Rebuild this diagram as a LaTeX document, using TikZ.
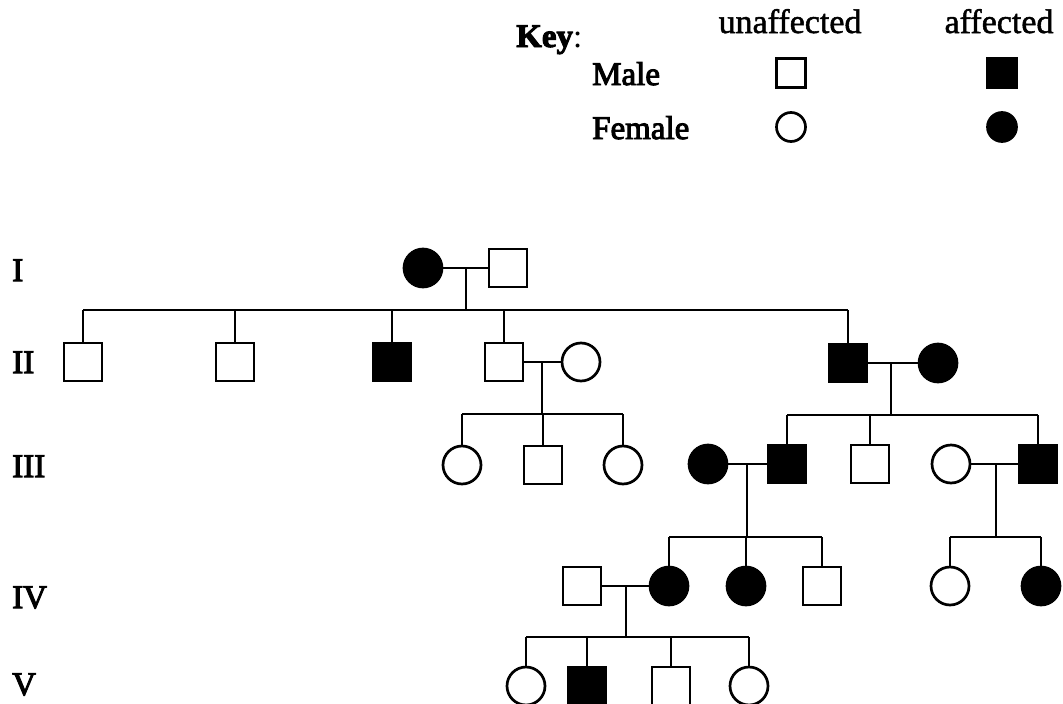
\documentclass[tikz,border=0pt]{standalone}
\usepackage{fontspec}
\setmainfont{Liberation Serif}
\newfontfamily\heavyfont{Liberation Serif}[FakeBold=3]
\newfontfamily\midfont{Liberation Serif}[FakeBold=1.5]
\usetikzlibrary{calc}
\begin{document}
\begin{tikzpicture}[x=1pt,y=-1pt,
  lw/.style={line width=2.7pt},
  person/.style={draw, lw, inner sep=0pt, fill=white},
  male/.style={person, rectangle, minimum size=38pt},
  female/.style={person, circle, minimum size=38pt},
  keymale/.style={person, rectangle, minimum size=29pt},
  keyfemale/.style={person, circle, minimum size=29pt},
  aff/.style={fill=black},
  tag/.style={anchor=base west, inner sep=0pt, font=\heavyfont\fontsize{33}{38}\selectfont},
  head/.style={anchor=base, inner sep=0pt, font=\midfont\fontsize{34}{38}\selectfont},
  link/.style={lw}
]
\clip (0,0) rectangle (1063,704);
\useasboundingbox (0,0) rectangle (1063,704);

% ---------- key ----------
\node[tag, font=\fontsize{33}{38}\selectfont] (keyt) at (516,47) {{\heavyfont\bfseries Key}:};
\node[head] (unaff) at (790,33) {unaffected};
\node[head] (affh) at (999,33) {affected};
\node[tag] (malet) at (592,85) {Male};
\node[tag] (femt) at (592,139) {Female};
\node[keymale] (km) at (791,73) {};
\node[keymale, aff] (kma) at (1002,73) {};
\node[keyfemale] (kf) at (791,127) {};
\node[keyfemale, aff] (kfa) at (1002,127) {};

% ---------- generation labels ----------
\node[tag] (gI) at (12,281) {I};
\node[tag] (gII) at (12,373) {II};
\node[tag] (gIII) at (12,477) {III};
\node[tag] (gIV) at (12,608) {IV};
\node[tag] (gV) at (12,695) {V};

% ---------- generation I ----------
\node[female, aff] (I1) at (423,268) {};
\node[male] (I2) at (508,268) {};

% ---------- generation II ----------
\node[male] (II1) at (83,362) {};
\node[male] (II2) at (235,362) {};
\node[male, aff] (II3) at (392,362) {};
\node[male] (II4) at (504,362) {};
\node[female] (II4w) at (581,362) {};
\node[male, aff] (II5) at (848,363) {};
\node[female, aff] (II5w) at (938,363) {};

% ---------- generation III ----------
\node[female] (III1) at (462,465) {};
\node[male] (III2) at (543,465) {};
\node[female] (III3) at (623,465) {};
\node[female, aff] (III4w) at (708,464) {};
\node[male, aff] (III4) at (787,464) {};
\node[male] (III5) at (870,464) {};
\node[female] (III6w) at (951,464) {};
\node[male, aff] (III6) at (1038,464) {};

% ---------- generation IV ----------
\node[male] (IV1h) at (582,586) {};
\node[female, aff] (IV1) at (669,586) {};
\node[female, aff] (IV2) at (746,586) {};
\node[male] (IV3) at (822,586) {};
\node[female] (IV4) at (950,586) {};
\node[female, aff] (IV5) at (1041,586) {};

% ---------- generation V ----------
\node[female] (V1) at (526,686) {};
\node[male, aff] (V2) at (587,686) {};
\node[male] (V3) at (671,686) {};
\node[female] (V4) at (749,686) {};

% ---------- marriages and descent ----------
% I1 x I2
\draw[link] (I1) -- (I2);
\coordinate (dI) at (466,268);
\coordinate (sI) at (0,310);
\draw[link] (dI) -- (dI |- sI);
\draw[link] (II1.north |- sI) -- (II5.north |- sI);
\foreach \c in {II1,II2,II3,II4,II5}
  \draw[link] (\c.north) -- (\c.north |- sI);

% II4 x II4w
\draw[link] (II4) -- (II4w);
\coordinate (dII4) at (542,362);
\coordinate (sII4) at (0,414);
\draw[link] (dII4) -- (dII4 |- sII4);
\draw[link] (III1.north |- sII4) -- (III3.north |- sII4);
\foreach \c in {III1,III2,III3}
  \draw[link] (\c.north) -- (\c.north |- sII4);

% II5 x II5w
\draw[link] (II5) -- (II5w);
\coordinate (dII5) at (891,363);
\coordinate (sII5) at (0,415);
\draw[link] (dII5) -- (dII5 |- sII5);
\draw[link] (III4.north |- sII5) -- (III6.north |- sII5);
\foreach \c in {III4,III5,III6}
  \draw[link] (\c.north) -- (\c.north |- sII5);

% III4w x III4
\draw[link] (III4w) -- (III4);
\coordinate (dIII4) at (747,464);
\coordinate (sIII4) at (0,537);
\draw[link] (dIII4) -- (dIII4 |- sIII4);
\draw[link] (IV1.north |- sIII4) -- (IV3.north |- sIII4);
\foreach \c in {IV1,IV2,IV3}
  \draw[link] (\c.north) -- (\c.north |- sIII4);

% III6w x III6
\draw[link] (III6w) -- (III6);
\coordinate (dIII6) at (996,464);
\draw[link] (dIII6) -- (dIII6 |- sIII4);
\draw[link] (IV4.north |- sIII4) -- (IV5.north |- sIII4);
\foreach \c in {IV4,IV5}
  \draw[link] (\c.north) -- (\c.north |- sIII4);

% IV1h x IV1
\draw[link] (IV1h) -- (IV1);
\coordinate (dIV1) at (626,586);
\coordinate (sIV1) at (0,637);
\draw[link] (dIV1) -- (dIV1 |- sIV1);
\draw[link] (V1.north |- sIV1) -- (V4.north |- sIV1);
\foreach \c in {V1,V2,V3,V4}
  \draw[link] (\c.north) -- (\c.north |- sIV1);
\end{tikzpicture}
\end{document}
